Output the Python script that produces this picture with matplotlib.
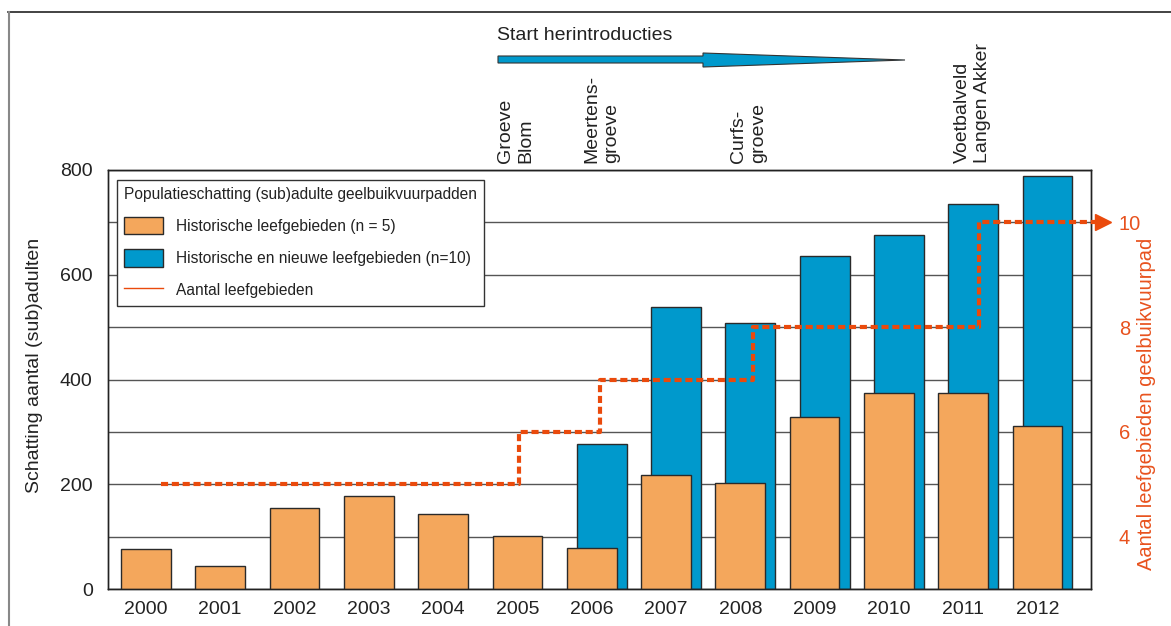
import matplotlib
matplotlib.use('Agg')
import matplotlib.pyplot as plt
import numpy as np
from matplotlib.patches import Polygon, Patch
from matplotlib.lines import Line2D

plt.rcParams['font.family'] = ['Liberation Sans', 'DejaVu Sans']

# ---- data ----
years = ['2000', '2001', '2002', '2003', '2004', '2005', '2006',
         '2007', '2008', '2009', '2010', '2011', '2012']
historic = [76, 43, 154, 178, 143, 102, 79, 217, 202, 328, 374, 374, 311]
all_sites = [np.nan, np.nan, np.nan, np.nan, np.nan, np.nan,
             277, 538, 507, 636, 676, 736, 788]
step_x = [0.2, 5.02, 6.11, 8.17, 11.21, 12.78]
step_n = [5, 6, 7, 8, 10]
left_ticks = [0, 200, 400, 600, 800]
right_ticks = [4, 6, 8, 10]

ORANGE = '#F4A75C'
BLUE = '#0099CC'
RED = '#EA4A0C'
RED_TXT = '#E8521E'
DARK = '#222222'

W, H = 1171, 626
fig = plt.figure(figsize=(W / 100, H / 100), dpi=100)

L, R, T, B = 108, 1091, 170, 589
ax = fig.add_axes([L / W, 1 - B / H, (R - L) / W, (B - T) / H])
x = np.arange(len(years))
bw = 0.67
off = 0.135

ax.bar(x + off, all_sites, width=bw, color=BLUE, edgecolor='#2a2a2a', lw=1, zorder=2)
ax.bar(x, historic, width=bw, color=ORANGE, edgecolor='#2a2a2a', lw=1, zorder=3)

ax.set_xlim(-0.51, 12.72)
ax.set_ylim(0, 800)
ax.set_yticks(left_ticks)
ax.set_yticks(np.arange(100, 800, 200), minor=True)
ax.grid(axis='y', which='both', color='#555555', lw=1)
ax.set_axisbelow(True)
ax.set_xticks(x)
ax.set_xticklabels(years)
ax.tick_params(axis='x', length=0, pad=9, labelsize=14, labelcolor=DARK)
ax.tick_params(axis='y', which='both', length=0, pad=11, labelsize=14, labelcolor=DARK)
for s in ax.spines.values():
    s.set_color('#222222')
    s.set_linewidth(1)

ax2 = ax.twinx()
ax2.set_ylim(3, 11)
ax2.set_yticks(right_ticks)
ax2.tick_params(axis='y', length=0, pad=20, labelsize=14.5, labelcolor=RED_TXT)
for s in ax2.spines.values():
    s.set_color('#222222')
    s.set_linewidth(1)

sx = list(step_x)
sy = list(step_n) + [step_n[-1]]
ax2.step(sx, sy, where='post', color=RED, lw=3, dashes=(1.7, 0.9),
         clip_on=False, zorder=5)
ax2.plot([step_x[-1] + 0.1], [step_n[-1]], marker='>', color=RED,
         markersize=12, clip_on=False, zorder=5)

handles = [Patch(facecolor=ORANGE, edgecolor='#2a2a2a', lw=1),
           Patch(facecolor=BLUE, edgecolor='#2a2a2a', lw=1),
           Line2D([0], [0], color=RED, lw=1)]
labels = ['Historische leefgebieden (n = 5)',
          'Historische en nieuwe leefgebieden (n=10)',
          'Aantal leefgebieden']
leg = ax2.legend(handles, labels, title='Populatieschatting (sub)adulte geelbuikvuurpadden',
                 loc='upper left', bbox_to_anchor=(0.009, 0.976), borderaxespad=0,
                 fontsize=11.2, title_fontsize=11.2, alignment='left',
                 handlelength=2.5, handleheight=1.35, handletextpad=0.85,
                 labelspacing=0.95, borderpad=0.45, fancybox=False,
                 framealpha=1, edgecolor='#333333')
leg.get_frame().set_linewidth(1)
for t in leg.get_texts():
    t.set_color(DARK)
leg.get_title().set_color(DARK)

# axis labels
fig.text(35 / W, 1 - 365 / H, 'Schatting aantal (sub)adulten', rotation=90,
         ha='center', va='center', fontsize=14, color=DARK)
fig.text(1146 / W, 1 - 404 / H, 'Aantal leefgebieden geelbuikvuurpad', rotation=90,
         ha='center', va='center', fontsize=14.5, color=RED_TXT)

# top annotations
fig.text(497 / W, 1 - 35 / H, 'Start herintroducties', ha='left', va='center',
         fontsize=14, color=DARK)
arrow_px = [(498, 56), (703, 56), (703, 53), (905, 60), (703, 67), (703, 63), (498, 63)]
arrow = Polygon([(px / W, 1 - py / H) for px, py in arrow_px], closed=True,
                facecolor=BLUE, edgecolor='#333333', lw=0.8, transform=fig.transFigure)
fig.patches.append(arrow)

site_labels = [(497, 'Groeve\nBlom'), (583, 'Meertens-\ngroeve'),
               (730, 'Curfs-\ngroeve'), (954, 'Voetbalveld\nLangen Akker')]
for px, txt in site_labels:
    fig.text(px / W, 1 - 163 / H, txt, rotation=90, ha='left', va='bottom',
             multialignment='left', fontsize=14, color=DARK, linespacing=1.25)

# figure border lines
fig.add_artist(Line2D([8 / W, 1], [1 - 12 / H, 1 - 12 / H], color='#222222', lw=1.2,
                      transform=fig.transFigure))
fig.add_artist(Line2D([8.5 / W, 8.5 / W], [0, 1 - 12 / H], color='#888888', lw=1.5,
                      transform=fig.transFigure))

fig.savefig('out.png', dpi=100)
